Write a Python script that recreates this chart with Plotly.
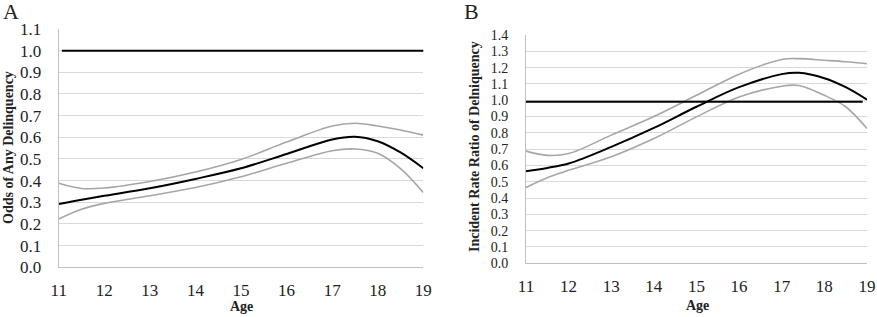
import plotly.graph_objects as go

# ---- Panel A data ----
age_a = [11, 11.5, 12, 13, 14, 15, 16, 17, 17.5, 18, 18.5, 19]
odds_main = [0.292, 0.312, 0.330, 0.365, 0.408, 0.457, 0.523, 0.590, 0.603, 0.582, 0.530, 0.457]
odds_upper = [0.388, 0.364, 0.366, 0.396, 0.440, 0.498, 0.578, 0.652, 0.665, 0.652, 0.634, 0.610]
odds_lower = [0.223, 0.268, 0.295, 0.330, 0.368, 0.418, 0.480, 0.538, 0.546, 0.526, 0.455, 0.345]
ref_a_x = [11.07, 19.08]
ref_a_y = [1.0, 1.0]

# ---- Panel B data ----
age_b = [11, 11.5, 12, 13, 14, 15, 16, 17, 17.4, 18, 18.5, 19]
irr_main = [0.565, 0.585, 0.612, 0.714, 0.830, 0.960, 1.080, 1.160, 1.168, 1.135, 1.080, 1.004]
irr_upper = [0.688, 0.662, 0.673, 0.786, 0.900, 1.030, 1.160, 1.250, 1.255, 1.245, 1.236, 1.224]
irr_lower = [0.465, 0.525, 0.570, 0.653, 0.765, 0.898, 1.020, 1.086, 1.090, 1.030, 0.960, 0.826]
ref_b_x = [11, 18.9]
ref_b_y = [0.99, 0.99]

x_ticks = [11, 12, 13, 14, 15, 16, 17, 18, 19]
y_ticks_a = [round(i * 0.1, 1) for i in range(12)]
y_ticks_b = [round(i * 0.1, 1) for i in range(15)]

W, H = 877, 317
SERIF = "Liberation Serif, Times New Roman, serif"
GRID = "#d9d9d9"
CI = "#a6a6a6"

fig = go.Figure()

def add_panel(xs, main, up, lo, rx, ry, xa, ya):
    fig.add_trace(go.Scatter(x=xs, y=up, mode="lines", line=dict(color=CI, width=1.6, shape="spline", smoothing=1.0), xaxis=xa, yaxis=ya, showlegend=False))
    fig.add_trace(go.Scatter(x=xs, y=lo, mode="lines", line=dict(color=CI, width=1.6, shape="spline", smoothing=1.0), xaxis=xa, yaxis=ya, showlegend=False))
    fig.add_trace(go.Scatter(x=xs, y=main, mode="lines", line=dict(color="black", width=2, shape="spline", smoothing=1.0), xaxis=xa, yaxis=ya, showlegend=False))
    fig.add_trace(go.Scatter(x=rx, y=ry, mode="lines", line=dict(color="black", width=2), xaxis=xa, yaxis=ya, showlegend=False, cliponaxis=False))

add_panel(age_a, odds_main, odds_upper, odds_lower, ref_a_x, ref_a_y, "x", "y")
add_panel(age_b, irr_main, irr_upper, irr_lower, ref_b_x, ref_b_y, "x2", "y2")

xa_common = dict(range=[11, 19], tickvals=x_ticks, showgrid=False, zeroline=False,
                 showline=True, linecolor="#bfbfbf", linewidth=1, automargin=False,
                 ticks="outside", ticklen=7, tickcolor="rgba(0,0,0,0)",
                 tickfont=dict(family=SERIF, size=17, color="#222"))
ya_common = dict(showgrid=True, gridcolor=GRID, gridwidth=1, zeroline=False,
                 showline=True, linecolor="#bfbfbf", linewidth=1, automargin=False,
                 ticks="outside", tickcolor="rgba(0,0,0,0)",
                 tickformat=".1f")

fig.update_layout(
    width=W, height=H,
    margin=dict(l=0, r=0, t=0, b=0),
    paper_bgcolor="white", plot_bgcolor="white",
    xaxis=dict(domain=[58.7 / W, 423.3 / W], anchor="y", **xa_common),
    yaxis=dict(domain=[(H - 267.3) / H, (H - 29) / H], anchor="x", range=[0, 1.1], tickvals=y_ticks_a,
               ticklen=13, tickfont=dict(family=SERIF, size=17, color="#222"), **ya_common),
    xaxis2=dict(domain=[526 / W, 867 / W], anchor="y2", **xa_common),
    yaxis2=dict(domain=[(H - 263.3) / H, (H - 35) / H], anchor="x2", range=[0, 1.4], tickvals=y_ticks_b,
                ticklen=14, tickfont=dict(family=SERIF, size=14, color="#222"), **ya_common),
)

def ann(text, x, y, size, bold=False, angle=0):
    fig.add_annotation(text=f"<b>{text}</b>" if bold else text, x=x / W, y=1 - y / H,
                       xref="paper", yref="paper", showarrow=False, textangle=angle,
                       xanchor="center", yanchor="middle",
                       font=dict(family=SERIF, size=size, color="#222"))

ann("A", 11, 12, 22)
ann("B", 471, 12, 22)
ann("Age", 242, 306, 14, bold=True)
ann("Age", 697, 305, 14, bold=True)
ann("Odds of Any Delinquency", 8, 148, 14, bold=True, angle=-90)
ann("Incident Rate Ratio of Delniquency", 474, 146, 14, bold=True, angle=-90)

fig.write_html("out.html", config={"displayModeBar": False},
               post_script="document.body.style.margin='0';")
